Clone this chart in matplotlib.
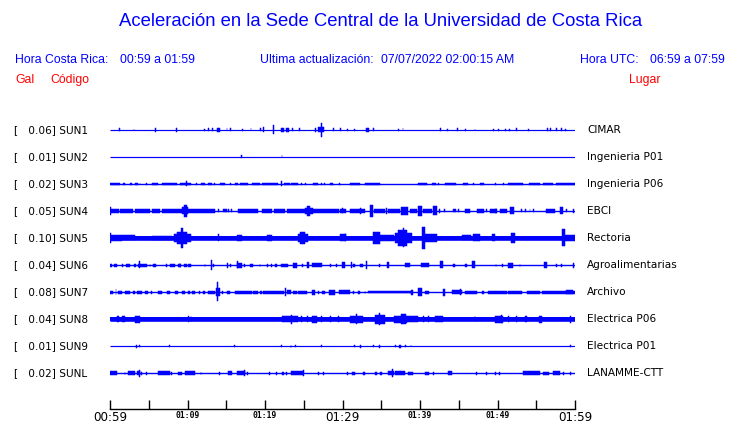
import matplotlib
matplotlib.use('Agg')
import matplotlib.pyplot as plt

W, H, DPI = 740, 423, 100
BLUE = '#0000ff'
RED = '#ff0000'

# ---------------- data ----------------
CODES = ['SUN1', 'SUN2', 'SUN3', 'SUN4', 'SUN5', 'SUN6', 'SUN7', 'SUN8', 'SUN9', 'SUNL']
GAL = [0.06, 0.01, 0.02, 0.05, 0.10, 0.04, 0.08, 0.04, 0.01, 0.02]
PLACES = ['CIMAR', 'Ingenieria P01', 'Ingenieria P06', 'EBCI', 'Rectoria',
          'Agroalimentarias', 'Archivo', 'Electrica P06', 'Electrica P01', 'LANAMME-CTT']
TICK_MIN = [0, 5, 10, 15, 20, 25, 30, 35, 40, 45, 50, 55, 60]
TICK_LABELS = ['00:59', '', '01:09', '', '01:19', '', '01:29', '', '01:39', '', '01:49', '', '01:59']
MAJOR_LABELS = ['00:59', '01:29', '01:59']

# baseline half-amplitude of each trace (relative units, 27 = trace spacing)
BASE_AMP = [0.6, 0.6, 0.7, 0.7, 2.3, 0.7, 0.7, 2.3, 0.6, 0.7]

# bursts: (start minute, end minute, half amplitude)
SUN1 = [(1.2, 1.2, 1.5), (3.1, 3.1, 1.0), (5.9, 5.9, 1.8), (8.5, 8.7, 1.8), (12.2, 12.2, 1.0),
        (12.7, 12.7, 1.5), (13.2, 13.2, 1.5), (13.8, 14.2, 1.8), (15.1, 15.1, 1.5), (15.5, 15.5, 1.5),
        (17.1, 17.1, 1.2), (18.2, 18.2, 1.5), (19.4, 19.4, 1.5), (19.8, 19.8, 2.5), (21.1, 21.1, 4.5),
        (22.0, 22.4, 1.8), (22.7, 23.1, 1.8), (23.5, 23.5, 1.5), (24.4, 24.4, 1.5), (26.5, 26.5, 2.0),
        (26.9, 27.6, 2.5), (27.2, 27.3, 7.0), (28.8, 28.8, 1.5), (29.7, 29.7, 1.5), (30.6, 30.6, 1.2),
        (31.6, 31.6, 1.2), (33.0, 33.4, 1.8), (34.0, 34.0, 1.5), (37.2, 37.3, 1.2), (37.8, 37.8, 1.5),
        (42.6, 42.6, 1.5), (43.5, 43.5, 1.0), (44.8, 44.8, 1.5), (45.9, 45.9, 1.2), (47.1, 47.1, 1.0),
        (49.5, 49.5, 1.0), (50.1, 50.1, 1.0), (51.0, 51.0, 1.2), (51.6, 51.6, 1.2), (52.4, 52.4, 1.5),
        (54.0, 54.0, 1.0), (56.4, 56.4, 1.5), (56.8, 56.8, 1.5), (57.6, 57.6, 1.5), (58.3, 58.3, 1.5),
        (58.8, 58.8, 1.2)]
SUN2 = [(17.0, 17.0, 1.5), (22.2, 22.2, 1.5)]
SUN3 = [(0.0, 1.3, 1.3), (1.72, 1.94, 1.3), (2.58, 2.8, 1.3), (3.2, 3.66, 1.3), (3.87, 3.87, 1.3),
        (4.73, 4.73, 1.3), (5.4, 6.2, 1.3), (6.67, 8.6, 1.3), (9.03, 10.5, 1.3), (9.9, 9.9, 2.5),
        (11.2, 11.2, 1.3), (11.8, 12.3, 1.3), (12.7, 13.1, 1.3), (13.5, 13.5, 1.3), (14.2, 14.8, 1.3),
        (15.5, 15.5, 1.3), (16.1, 16.56, 1.3), (16.8, 17.85, 1.3), (18.3, 19.4, 1.3), (19.6, 21.7, 1.3),
        (22.15, 22.15, 2.5), (22.4, 23.2, 1.3), (23.4, 24.3, 1.3), (24.7, 24.7, 1.3), (25.2, 25.2, 1.3),
        (26.2, 26.9, 1.3), (27.3, 27.3, 1.3), (27.7, 27.7, 1.3), (28.4, 28.8, 1.3), (29.5, 29.7, 1.3),
        (31.0, 32.26, 1.3), (32.9, 34.84, 1.3), (39.8, 40.9, 1.3), (41.5, 42.0, 1.3), (42.4, 42.4, 1.3),
        (43.2, 44.7, 1.3), (45.6, 46.2, 1.3), (46.9, 46.9, 1.3), (47.7, 48.2, 1.3), (49.7, 49.7, 1.3),
        (50.75, 50.75, 1.3), (51.4, 53.3, 1.3), (54.0, 55.5, 1.3), (55.9, 57.2, 1.3), (57.6, 60.0, 1.3)]
SUN4 = [(0.0, 0.1, 4.0), (0.0, 1.1, 1.8), (1.3, 3.0, 1.7), (3.2, 5.2, 1.7), (5.4, 6.45, 1.6),
        (6.7, 9.25, 1.7), (9.25, 10.1, 3.5), (9.5, 9.9, 6.0), (10.1, 13.5, 1.7), (14.0, 14.0, 1.5),
        (14.6, 15.05, 1.5), (15.3, 15.3, 1.5), (15.7, 15.7, 1.5), (16.56, 19.1, 1.7), (19.6, 20.9, 1.7),
        (21.1, 22.6, 1.7), (22.8, 25.2, 1.7), (25.1, 26.2, 3.0), (25.4, 25.8, 5.0), (26.0, 29.5, 1.7),
        (29.7, 30.5, 1.7), (30.0, 30.0, 2.5), (31.0, 32.9, 1.7), (32.3, 32.3, 3.0), (33.6, 34.0, 6.0),
        (34.0, 35.5, 2.0), (35.7, 35.7, 3.0), (35.9, 37.4, 1.7), (37.6, 38.5, 4.0), (38.7, 39.6, 2.0),
        (39.8, 40.2, 5.0), (40.4, 41.5, 2.0), (41.7, 42.2, 4.5), (42.4, 42.6, 2.0), (43.2, 43.2, 1.5),
        (44.3, 44.7, 1.5), (45.0, 45.0, 1.5), (45.8, 46.5, 1.7), (47.3, 48.2, 2.0), (48.6, 48.6, 1.5),
        (49.0, 49.9, 1.7), (49.8, 49.8, 3.0), (50.3, 51.2, 1.7), (51.6, 52.1, 3.5), (53.1, 53.1, 1.5),
        (53.6, 53.6, 1.5), (54.2, 54.2, 1.5), (54.6, 54.6, 1.5), (56.3, 57.4, 1.7), (58.1, 58.5, 3.5),
        (58.9, 58.9, 1.5), (59.8, 59.8, 2.0)]
SUN5 = [(0.0, 1.5, 3.0), (0.0, 0.1, 5.0), (1.5, 3.2, 2.5), (5.4, 8.0, 2.3), (8.2, 10.5, 4.0),
        (8.6, 9.9, 6.0), (9.2, 9.4, 10.0), (14.0, 14.0, 3.5), (16.35, 17.0, 3.0), (20.2, 20.9, 3.0),
        (24.3, 25.6, 4.0), (24.5, 25.2, 6.0), (29.7, 30.5, 3.5), (30.4, 30.4, 3.5), (33.9, 34.8, 6.0),
        (34.8, 36.6, 3.0), (36.8, 39.0, 5.0), (37.2, 38.3, 8.0), (37.8, 37.9, 9.5), (40.2, 40.65, 11.0),
        (40.65, 42.2, 4.0), (45.4, 46.6, 2.5), (46.9, 47.7, 3.5), (49.3, 49.7, 3.5), (51.8, 52.3, 5.0),
        (58.3, 58.7, 8.5), (58.7, 60.0, 3.0)]
SUN6 = [(0.0, 0.22, 1.5), (0.56, 0.86, 1.5), (1.5, 1.72, 1.5), (2.02, 2.58, 1.5), (3.14, 3.31, 1.5),
        (3.66, 4.73, 1.5), (3.8, 3.8, 3.5), (5.16, 5.16, 1.5), (5.59, 5.89, 1.5), (7.3, 7.3, 1.5),
        (7.74, 8.39, 1.5), (8.8, 9.16, 1.5), (9.03, 9.03, 2.5), (9.55, 9.9, 1.5), (10.1, 10.45, 1.5),
        (12.26, 12.26, 1.5), (13.03, 13.2, 5.0), (13.33, 13.33, 1.5), (15.05, 15.27, 2.5), (15.6, 15.6, 1.5),
        (16.35, 17.0, 2.5), (16.47, 16.47, 3.5), (17.3, 17.3, 1.5), (18.0, 18.5, 1.5), (19.35, 19.35, 1.5),
        (20.3, 20.3, 1.5), (20.86, 20.86, 1.5), (21.3, 21.5, 1.5), (22.1, 23.0, 1.5), (23.65, 24.1, 2.5),
        (24.86, 24.86, 1.5), (25.4, 25.7, 3.0), (26.0, 27.3, 2.0), (28.4, 28.4, 1.5), (29.25, 29.25, 1.5),
        (29.9, 30.3, 3.0), (31.2, 31.2, 3.0), (31.4, 31.6, 1.5), (32.2, 32.7, 1.5), (33.1, 33.1, 4.0),
        (34.75, 34.75, 1.5), (35.7, 36.0, 3.0), (38.1, 38.7, 2.0), (40.1, 41.1, 2.0), (42.6, 43.0, 3.5),
        (44.3, 44.5, 1.5), (45.8, 46.0, 1.5), (46.7, 47.1, 3.5), (49.8, 49.8, 1.5), (50.7, 50.7, 1.5),
        (51.4, 52.05, 2.5), (52.9, 52.9, 1.5), (56.0, 56.35, 3.0), (57.6, 57.6, 1.5), (58.3, 58.3, 1.5),
        (59.8, 59.8, 2.5)]
SUN7 = [(0.0, 0.43, 1.5), (0.77, 0.77, 3.0), (1.07, 1.5, 1.5), (1.94, 2.58, 1.5), (3.0, 3.2, 1.5),
        (3.44, 4.09, 1.5), (4.5, 4.95, 1.5), (5.38, 5.38, 1.5), (6.24, 6.67, 1.5), (7.3, 7.74, 1.5),
        (8.39, 8.8, 1.5), (9.25, 9.68, 1.5), (10.0, 10.3, 1.5), (10.6, 11.0, 1.5), (11.6, 11.6, 1.5),
        (12.0, 12.26, 1.5), (12.7, 13.55, 1.5), (13.63, 14.2, 4.0), (13.8, 13.9, 9.5), (14.4, 14.6, 1.5),
        (15.05, 15.5, 1.5), (16.1, 18.3, 1.5), (18.5, 19.1, 1.5), (19.35, 19.6, 1.5), (19.8, 22.4, 1.5),
        (22.6, 22.6, 4.0), (22.8, 23.4, 2.0), (23.65, 24.1, 1.5), (24.3, 25.4, 1.5), (26.0, 26.45, 2.5),
        (26.9, 26.9, 1.5), (27.3, 27.75, 1.5), (28.2, 29.0, 2.5), (29.5, 31.0, 2.0), (31.4, 31.4, 1.5),
        (32.0, 32.3, 1.5), (32.9, 32.9, 1.5), (33.3, 38.9, 1.3), (38.9, 39.1, 2.5), (39.8, 40.2, 4.0),
        (40.65, 41.1, 1.5), (43.0, 43.2, 3.5), (44.1, 45.4, 1.7), (45.2, 45.2, 3.0), (45.8, 47.3, 1.5),
        (47.96, 48.2, 1.5), (48.8, 51.2, 1.5), (51.4, 53.1, 1.5), (53.8, 55.5, 1.5), (55.7, 60.0, 1.5),
        (58.9, 59.7, 2.0)]
SUN8 = [(0.86, 1.1, 3.0), (1.5, 1.94, 3.0), (3.2, 3.87, 3.5), (10.1, 10.1, 3.0), (10.45, 10.45, 2.8),
        (22.15, 24.3, 3.2), (23.4, 23.5, 4.5), (24.7, 24.7, 3.0), (25.4, 25.6, 3.0), (26.0, 26.7, 3.5),
        (27.3, 27.3, 3.0), (28.4, 28.4, 3.0), (29.5, 29.5, 3.0), (31.0, 32.7, 3.5), (31.7, 31.9, 5.0),
        (34.2, 35.5, 4.5), (34.7, 34.9, 6.0), (36.6, 38.3, 3.5), (37.5, 38.2, 5.0), (38.3, 39.8, 3.0),
        (40.4, 40.4, 3.0), (41.1, 41.1, 3.0), (41.9, 43.0, 3.0), (47.1, 47.1, 3.0), (49.7, 50.75, 3.5),
        (50.4, 50.6, 4.0), (51.4, 51.4, 3.0), (52.5, 52.5, 3.0), (53.55, 53.8, 3.0), (55.3, 55.7, 3.5),
        (59.3, 59.5, 3.5)]
SUN9 = [(3.44, 3.44, 1.5), (3.8, 3.8, 1.0), (7.65, 7.65, 1.2), (16.1, 16.1, 1.2), (22.15, 22.15, 1.2),
        (23.3, 23.4, 1.5), (23.9, 23.9, 1.2), (27.3, 27.3, 1.2), (31.5, 31.5, 1.2), (32.35, 32.35, 1.5),
        (34.0, 34.0, 1.2), (34.75, 34.9, 1.5), (36.8, 36.8, 1.2), (37.3, 37.6, 1.5), (38.15, 38.15, 1.2),
        (38.84, 38.84, 1.2), (59.4, 59.4, 1.2)]
SUNL = [(0.0, 0.86, 1.7), (1.94, 1.94, 1.5), (2.28, 3.2, 1.7), (3.44, 3.87, 2.0), (3.8, 3.8, 3.5),
        (4.09, 4.09, 1.5), (4.73, 4.73, 1.5), (6.24, 7.74, 2.0), (7.96, 7.96, 1.5), (8.8, 9.25, 1.5),
        (9.68, 10.97, 1.7), (11.74, 11.74, 1.5), (14.1, 14.1, 1.5), (15.27, 15.7, 1.7), (16.35, 17.4, 1.8),
        (17.3, 17.3, 3.0), (17.76, 17.76, 1.5), (20.6, 20.6, 1.5), (21.5, 21.5, 1.5), (22.15, 22.4, 1.5),
        (22.8, 22.8, 1.5), (23.4, 24.95, 2.0), (24.95, 24.95, 3.0), (26.9, 26.9, 1.5), (27.5, 27.5, 1.5),
        (30.6, 30.6, 1.5), (31.2, 31.6, 1.5), (32.7, 32.9, 1.5), (34.2, 34.4, 1.5), (34.8, 35.06, 1.5),
        (35.9, 36.6, 2.0), (36.5, 36.5, 4.0), (36.8, 38.1, 2.0), (38.5, 39.1, 1.5), (40.65, 41.1, 1.5),
        (41.7, 41.7, 1.5), (43.66, 44.1, 2.0), (47.3, 47.3, 1.5), (48.6, 48.6, 1.5), (49.7, 49.7, 1.5),
        (50.3, 50.3, 1.5), (53.3, 55.5, 2.0), (55.9, 56.6, 1.5), (57.2, 58.1, 2.0), (58.5, 58.5, 1.5),
        (59.4, 59.4, 1.5)]
BURSTS = [SUN1, SUN2, SUN3, SUN4, SUN5, SUN6, SUN7, SUN8, SUN9, SUNL]

AMP_UNIT = 27.0      # relative amplitude units per trace spacing
SPAN = 60            # minutes shown

# ---------------- figure ----------------
fig = plt.figure(figsize=(W / DPI, H / DPI), dpi=DPI)
fig.patch.set_facecolor('white')


def px(x, y):
    return x / W, 1 - y / H


ax_left, ax_right = 110, 575
ax_top, ax_bot = 116.5, 409
ax = fig.add_axes([ax_left / W, 1 - ax_bot / H, (ax_right - ax_left) / W, (ax_bot - ax_top) / H])
n = len(CODES)
ax.set_xlim(0, SPAN)
ax.set_ylim(n - 1 + (ax_bot - 373) / 27.0, -0.5)

for i in range(n):
    b = BASE_AMP[i]
    ax.hlines(i, 0, SPAN, color=BLUE, linewidth=max(2 * b, 1.2) * 72 / DPI)
    if b > 1:
        ax.fill_between([0, SPAN], [i - b / AMP_UNIT] * 2, [i + b / AMP_UNIT] * 2,
                        color=BLUE, linewidth=0)
    bursts = BURSTS[i]
    xs = [(t0 + t1) / 2 for t0, t1, a in bursts]
    ws = [max(t1 - t0, 0.11) for t0, t1, a in bursts]
    hs = [2 * a / AMP_UNIT for t0, t1, a in bursts]
    bs = [i - a / AMP_UNIT for t0, t1, a in bursts]
    ax.bar(xs, hs, width=ws, bottom=bs, color=BLUE, edgecolor=BLUE, linewidth=0.35)

for s in ['top', 'right', 'left']:
    ax.spines[s].set_visible(False)
ax.spines['bottom'].set_linewidth(1.0)
ax.set_yticks([])
ax.set_xticks(TICK_MIN, TICK_LABELS)
ax.tick_params(axis='x', direction='in', length=6.5, width=1.0, pad=1.5, color='black')
for lab in ax.get_xticklabels():
    if lab.get_text() in MAJOR_LABELS:
        lab.set_fontsize(8.6)
        lab.set_family('DejaVu Sans')
    else:
        lab.set_fontsize(5.8)
        lab.set_family('DejaVu Sans Mono')
        lab.set_fontweight('bold')

# left / right labels
for i in range(n):
    y = 130 + 27 * i
    fig.text(*px(14, y), '[   %.2f] %s' % (GAL[i], CODES[i]), fontsize=7.6,
             family='DejaVu Sans', va='center', ha='left', color='black')
    fig.text(*px(587, y), PLACES[i], fontsize=7.6, family='DejaVu Sans',
             va='center', ha='left', color='black')

# header
fig.text(*px(381, 22), 'Aceleración en la Sede Central de la Universidad de Costa Rica',
         fontsize=13.3, family='Liberation Sans', color=BLUE, ha='center', va='center')
hdr = dict(fontsize=8.8, family='Liberation Sans', color=BLUE, va='center', ha='left')
fig.text(*px(15, 60), 'Hora Costa Rica:', **hdr)
fig.text(*px(120, 60), '00:59 a 01:59', **hdr)
fig.text(*px(260, 60), 'Ultima actualización:', **hdr)
fig.text(*px(381, 60), '07/07/2022 02:00:15 AM', **hdr)
fig.text(*px(580, 60), 'Hora UTC:', **hdr)
fig.text(*px(650, 60), '06:59 a 07:59', **hdr)
red = dict(hdr, color=RED)
fig.text(*px(15, 80), 'Gal', **red)
fig.text(*px(50, 80), 'Código', **red)
fig.text(*px(629, 80), 'Lugar', **red)

fig.savefig('out.png', dpi=DPI, facecolor='white')
